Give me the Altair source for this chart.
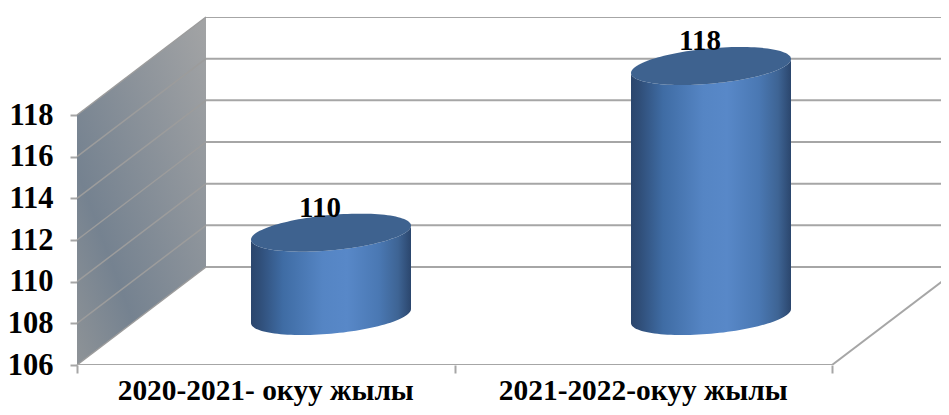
import math
import altair as alt
import pandas as pd

categories = ["2020-2021- окуу жылы", "2021-2022-окуу жылы"]
values = [110, 118]
y_ticks = [106, 108, 110, 112, 114, 116, 118]
x_ticks = [0, 1, 2]

# projection of the pseudo-3D box, in axis units
PX_X = 377.5          # pixels per category
PX_Y = 250 / 12       # pixels per value unit
DEPTH_X = 129 / PX_X
DEPTH_Y = 98 / PX_Y
BASE = 106
XMAX = 864 / PX_X
YMAX = BASE + 348 / PX_Y

GRAY = "#a6a6a6"
FONT = "Liberation Serif"

x_scale = alt.Scale(domain=[0, XMAX], range=[0, 864], nice=False, zero=False)
y_scale = alt.Scale(domain=[BASE, YMAX], range=[348, 0], nice=False, zero=False)
x_axis = alt.Axis(
    values=x_ticks, labels=False, domain=False, grid=False, title=None,
    tickColor=GRAY, tickWidth=2, tickSize=8)
y_axis = alt.Axis(
    values=y_ticks, format="d", domain=False, grid=False, title=None,
    tickColor=GRAY, tickWidth=2, tickSize=7, labelPadding=17,
    labelFont=FONT, labelFontSize=30.5, labelFontWeight="bold", labelColor="black")
X = lambda f="x": alt.X(f"{f}:Q", scale=x_scale, axis=x_axis)
Y = lambda f="y": alt.Y(f"{f}:Q", scale=y_scale, axis=y_axis)

# left wall
wall = pd.DataFrame({
    "x": [0, DEPTH_X],
    "y": [y_ticks[-1], y_ticks[-1] + DEPTH_Y],
    "y2": [BASE, BASE + DEPTH_Y],
})
wall_grad = alt.Gradient(
    gradient="linear", x1=1, y1=0, x2=0, y2=1,
    stops=[alt.GradientStop(offset=0, color="#a3a4a5"),
           alt.GradientStop(offset=0.72, color="#758290"),
           alt.GradientStop(offset=1, color="#8e9397")],
)
wall_layer = alt.Chart(wall).mark_area(color=wall_grad).encode(X(), Y(), y2="y2:Q")

# grid lines: on the wall and on the back plane
wall_rows, rows = [], []
for v in y_ticks:
    wall_rows += [{"g": f"w{v}", "x": 0, "y": v},
                  {"g": f"w{v}", "x": DEPTH_X, "y": v + DEPTH_Y}]
    rows += [{"g": f"b{v}", "x": DEPTH_X, "y": v + DEPTH_Y},
             {"g": f"b{v}", "x": XMAX, "y": v + DEPTH_Y}]
rows += [{"g": "front", "x": 0, "y": BASE}, {"g": "front", "x": x_ticks[-1], "y": BASE},
         {"g": "side", "x": x_ticks[-1], "y": BASE},
         {"g": "side", "x": x_ticks[-1] + DEPTH_X, "y": BASE + DEPTH_Y}]
grid_layer = alt.Chart(pd.DataFrame(rows)).mark_line(
    color=GRAY, strokeWidth=2, clip=True).encode(X(), Y(), detail="g:N")
wall_grid_layer = alt.Chart(pd.DataFrame(wall_rows)).mark_line(
    color="#9c9c9c", strokeWidth=1.5).encode(X(), Y(), detail="g:N")

# cylinders
R = 80 / PX_X
A = 17.7 / PX_Y
B = 7 / PX_Y
START = 0.5 + DEPTH_X / 2 + 0.75 / PX_X
SPACING = 380 / PX_X
side_rows, top_rows = [], []
for i, val in enumerate(values):
    cx = START + i * SPACING
    base = BASE + DEPTH_Y / 2
    top = val + DEPTH_Y / 2
    for k in range(61):
        c = -math.cos(math.pi * k / 60)
        s = math.sqrt(max(0, 1 - c * c))
        x = cx + R * c
        side_rows.append({"cat": categories[i], "x": x,
                          "y": top + B * c - A * s, "y2": base + B * c - A * s})
        top_rows.append({"cat": categories[i], "x": x,
                         "y": top + B * c + A * s, "y2": top + B * c - A * s})
side = pd.DataFrame(side_rows)
tops = pd.DataFrame(top_rows)
side_grad = alt.Gradient(
    gradient="linear", x1=0, y1=0, x2=1, y2=0,
    stops=[alt.GradientStop(offset=0, color="#2b466d"),
           alt.GradientStop(offset=0.05, color="#2f4d77"),
           alt.GradientStop(offset=0.2, color="#3f6ca4"),
           alt.GradientStop(offset=0.45, color="#5585c4"),
           alt.GradientStop(offset=0.6, color="#5888c8"),
           alt.GradientStop(offset=0.8, color="#4a78b3"),
           alt.GradientStop(offset=0.92, color="#3e6494"),
           alt.GradientStop(offset=1, color="#2b466d")],
)
side_layers = [
    alt.Chart(side[side.cat == c]).mark_area(color=side_grad).encode(X(), Y(), y2="y2:Q")
    for c in categories
]
top_layers = [
    alt.Chart(tops[tops.cat == c]).mark_area(color="#3e628f").encode(X(), Y(), y2="y2:Q")
    for c in categories
]

# value labels
labels = pd.DataFrame({
    "x": [START + i * SPACING - 11 / PX_X for i in range(len(values))],
    "y": [v + DEPTH_Y / 2 + 16 / PX_Y for v in values],
    "t": [str(v) for v in values],
})
label_layer = alt.Chart(labels).mark_text(
    font=FONT, fontSize=29, fontWeight="bold", color="black", baseline="alphabetic"
).encode(X(), Y(), text="t:N")

# category labels
cat_df = pd.DataFrame({
    "x": [i + 0.5 for i in range(len(categories))],
    "y": [BASE - 35 / PX_Y] * len(categories),
    "t": categories,
})
cat_layer = alt.Chart(cat_df).mark_text(
    font=FONT, fontSize=29.4, fontWeight="bold", color="black", baseline="alphabetic"
).encode(X(), Y(), text="t:N")

chart = alt.layer(
    wall_layer, wall_grid_layer, grid_layer, *side_layers, *top_layers, label_layer, cat_layer
).properties(
    width=864, height=348,
    autosize=alt.AutoSizeParams(type="none"),
    padding={"left": 69, "top": 9, "right": 0, "bottom": 42},
    background="white",
).configure_view(stroke=None)

chart.save("out.html", embed_options={"renderer": "svg", "actions": False})
